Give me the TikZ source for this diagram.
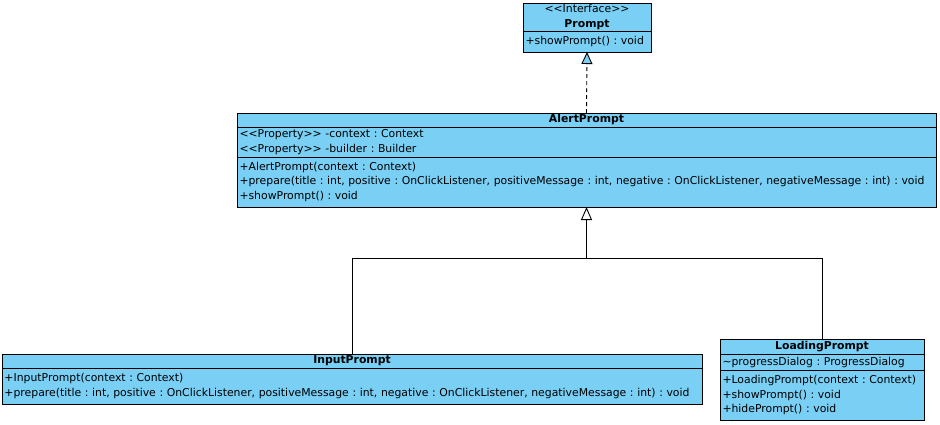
\documentclass[tikz,border=0pt]{standalone}
\usepackage{fontspec}
\setmainfont{DejaVu Sans}
\usetikzlibrary{positioning,arrows.meta}
\definecolor{umlblue}{RGB}{122,207,245}

\begin{document}
\frenchspacing
\begin{tikzpicture}[x=1pt,y=-1pt,line width=.9pt,
compart/.style={draw, fill=umlblue, inner xsep=2.5pt, inner ysep=0pt, outer sep=0pt,
  font=\fontsize{10.85}{14.5}\selectfont},
head/.style={compart, text width=#1, align=center, anchor=north},
body/.style={compart, text width=#1, align=left},
gen/.style={-{Triangle[open,fill=white,length=13pt,width=11pt]}},
real/.style={dashed, dash pattern=on 4pt off 3pt,
  -{Triangle[fill=umlblue,length=12pt,width=11pt]}}]
\useasboundingbox (0,0) rectangle (940,424);
% interface
\node[head=123, minimum height=28] (prompt) at (587,3)
  {<{}<Interface>{}>\\\textbf{Prompt}};
\node[body=123, minimum height=21, below=0pt of prompt] (promptop)
  {+showPrompt() : void};
% alert
\node[head=694, minimum height=14] (alert) at (586.5,113) {\textbf{AlertPrompt}};
\node[body=694, minimum height=30, below=0pt of alert] (alertattr)
  {<{}<Property>{}> -context : Context\\<{}<Property>{}> -builder : Builder};
\node[body=694, minimum height=50, below=0pt of alertattr] (alertop)
  {+AlertPrompt(context : Context)\\
   +prepare(title : int, positive : OnClickListener, positiveMessage : int, negative : OnClickListener, negativeMessage : int) : void\\
   +showPrompt() : void};
% input
\node[head=695, minimum height=14] (input) at (352,354) {\textbf{InputPrompt}};
\node[body=695, minimum height=36, below=0pt of input] (inputop)
  {+InputPrompt(context : Context)\\
   +prepare(title : int, positive : OnClickListener, positiveMessage : int, negative : OnClickListener, negativeMessage : int) : void};
% loading
\node[head=199, minimum height=15] (loading) at (822,339) {\textbf{LoadingPrompt}};
\node[body=199, minimum height=16, below=0pt of loading] (loadingattr)
  {\textasciitilde progressDialog : ProgressDialog};
\node[body=199, minimum height=50, below=0pt of loadingattr] (loadingop)
  {+LoadingPrompt(context : Context)\\+showPrompt() : void\\+hidePrompt() : void};

\coordinate (fork) at (586.5,258);
\draw[real] (alert.north) -- (promptop.south);
\draw (input.north) |- (fork);
\draw (loading.north) |- (fork);
\draw[gen] (fork) -- (alertop.south);
\end{tikzpicture}
\end{document}
